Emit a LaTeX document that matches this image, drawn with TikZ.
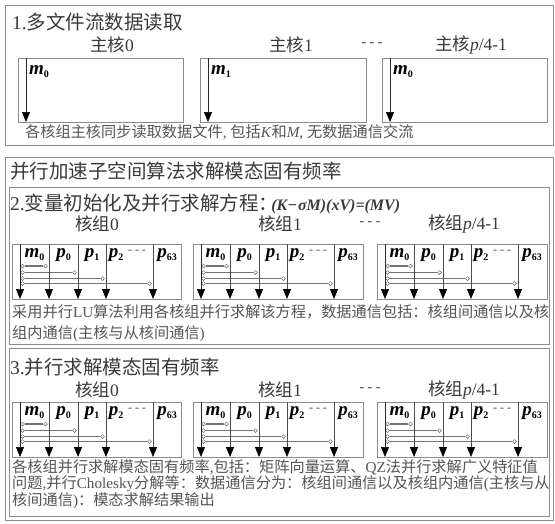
\documentclass[tikz,border=0pt]{standalone}
\usepackage{fontspec}
\setmainfont{Liberation Serif}
\newfontfamily\cjk{Noto Sans CJK SC}
\usetikzlibrary{arrows.meta}
\definecolor{boxc}{HTML}{8C8C8C}
\definecolor{tcol}{HTML}{3A3A3A}
\definecolor{ccol}{HTML}{555555}
\newcommand\zh[1]{{\cjk #1}}
\newcommand\bv[2]{\textbf{\textit{#1}}\raisebox{-3pt}{\fontsize{10}{10}\selectfont\textbf{#2}}}
\newcommand\eqn{{\fontsize{16}{18}\selectfont\textbf{\textit{(K\char"2212\kern1pt σM)(xV)=(MV)}}}}

% core group: #1 x, #2 y, #3 prefix, #4 width
\newcommand\coregrp[4]{%
\begin{scope}[shift={(#1,#2)}]
  \node[cbox, minimum width=#4pt, minimum height=55pt] (#3box) at (0,0) {};
  \foreach \i/\xx in {0/8,1/37,2/66,3/94,4/141} {
    \coordinate (#3t\i) at (\xx,0);
    \coordinate (#3b\i) at (\xx,55);
  }
  \node[circ] (#3s1) at (10.5,22) {};
  \node[circ] (#3s2) at (10.5,28.5) {};
  \node[circ] (#3s3) at (10.5,34.5) {};
  \node[circ] (#3s4) at (10.5,39.5) {};
  \node[circ] (#3e1) at (33.5,22) {};
  \node[circ] (#3e2) at (62.5,28.5) {};
  \node[circ] (#3e3) at (90.5,34.5) {};
  \node[circ] (#3e4) at (137.5,39.5) {};
  \draw[hline] (#3s1) -- (#3e1);
  \draw[hline] (#3s2) -- (#3e2);
  \draw[hline] (#3s3) -- (#3e3);
  \draw[hline] (#3s4) -- (#3e4);
  \draw[mline] (#3t0) -- (#3b0);
  \draw[dline] (#3t1) -- (#3b1);
  \draw[dline] (#3t2) -- (#3b2);
  \draw[dline] (#3t3) -- (#3b3);
  \draw[dline] (#3t4) -- (#3b4);
  \node[vlab] (#3m) at (22.5,11) {\bv{m}{0}};
  \node[vlab] (#3p0) at (51.5,11) {\bv{p}{0}};
  \node[vlab] (#3p1) at (80,11) {\bv{p}{1}};
  \node[vlab] (#3p2) at (104,11) {\bv{p}{2}};
  \node[dlab] (#3d) at (125,8) {- - -};
  \node[vlab] (#3p63) at (155,11) {\bv{p}{63}};
\end{scope}}

% main-core box: #1 x, #2 y, #3 prefix, #4 width, #5 subscript
\newcommand\mainbox[5]{%
\begin{scope}[shift={(#1,#2)}]
  \node[cbox, minimum width=#4pt, minimum height=64pt] (#3box) at (0,0) {};
  \coordinate (#3t) at (8,0);
  \coordinate (#3b) at (8,64);
  \draw[mline] (#3t) -- (#3b);
  \node[vlab, anchor=west] (#3m) at (11,14) {\bv{m}{#5}};
\end{scope}}

\begin{document}
\begin{tikzpicture}[x=1pt,y=-1pt,
  secbox/.style={draw=boxc, line width=1.3pt, inner sep=0, anchor=north west},
  cbox/.style={draw=boxc, line width=1pt, inner sep=0, anchor=north west},
  mline/.style={draw=black!85, line width=0.7pt, -{Triangle[width=8pt,length=10pt,color=black]}},
  dline/.style={draw=black!70, line width=0.8pt, -{Triangle[width=8pt,length=10pt,color=black]}},
  hline/.style={draw=black!55, line width=1.5pt},
  circ/.style={circle, draw=black!60, fill=white, line width=0.5pt, minimum size=3.8pt, inner sep=0},
  ttl/.style={anchor=west, inner sep=0, font=\fontsize{19.5}{22}\selectfont, text=tcol},
  lbl/.style={inner sep=0, font=\fontsize{17.5}{20}\selectfont, text=tcol},
  captxt/.style={anchor=west, inner sep=0, font=\fontsize{15.2}{17}\selectfont, text=ccol},
  vlab/.style={inner sep=0, font=\fontsize{19}{20}\selectfont, text=black},
  dlab/.style={inner sep=0, font=\fontsize{12}{12}\selectfont, text=black!70},
  hdots/.style={inner sep=0, font=\fontsize{14}{16}\selectfont, text=tcol}
]
\fill[white] (0,0) rectangle (555,523);
\useasboundingbox (0,0) rectangle (555,523);

% ---------- section 1 ----------
\node[secbox, minimum width=548pt, minimum height=140pt] (sec1) at (5,5) {};
\node[ttl] (t1) at (12,22) {1.\zh{多文件流数据读取}};
\node[lbl] (l10) at (112,45) {\zh{主核}0};
\node[lbl] (l11) at (291,45) {\zh{主核}1};
\node[hdots] (dd1) at (372,45) {- - -};
\node[lbl] (l1p) at (471,45) {\zh{主核}\textit{p}/4-1};
\mainbox{18}{58}{ma}{165}{0}
\mainbox{200}{58}{mb}{166}{1}
\mainbox{382}{58}{mc}{165}{0}
\node[captxt] (c1) at (25,132) {\zh{各核组主核同步读取数据文件}, \zh{包括}\textit{K}\zh{和}\textit{M}, \zh{无数据通信交流}};

% ---------- section 2 outer ----------
\node[secbox, minimum width=548pt, minimum height=363pt] (sec2) at (5,157) {};
\node[ttl] (t2) at (10,171) {\zh{并行加速子空间算法求解模态固有频率}};

% ---------- box 2 ----------
\node[secbox, minimum width=540pt, minimum height=157pt] (box2) at (9,187) {};
\node[ttl] (t21) at (10,204) {2.\zh{变量初始化及并行求解方程：}\kern-7pt\eqn};
\node[lbl] (l20) at (97,224) {\zh{核组}0};
\node[lbl] (l21) at (280,224) {\zh{核组}1};
\node[hdots] (dd2) at (370,224) {- - -};
\node[lbl] (l2p) at (464,224) {\zh{核组}\textit{p}/4-1};
\coregrp{12}{244}{ga}{169}
\coregrp{193}{244}{gb}{170}
\coregrp{377}{244}{gc}{170}
\node[captxt] (c21) at (12,312) {\zh{采用并行}LU\zh{算法利用各核组并行求解该方程，数据通信包括：核组间通信以及核}};
\node[captxt] (c22) at (12,334) {\zh{组内通信}(\zh{主核与从核间通信})};

% ---------- box 3 ----------
\node[secbox, minimum width=540pt, minimum height=168pt] (box3) at (9,348) {};
\node[ttl] (t31) at (10,367) {3.\zh{并行求解模态固有频率}};
\node[lbl] (l30) at (97,390) {\zh{核组}0};
\node[lbl] (l31) at (280,390) {\zh{核组}1};
\node[hdots] (dd3) at (370,390) {- - -};
\node[lbl] (l3p) at (464,390) {\zh{核组}\textit{p}/4-1};
\coregrp{12}{402}{ha}{169}
\coregrp{193}{402}{hb}{170}
\coregrp{377}{402}{hc}{170}
\node[captxt] (c31) at (12,467) {\zh{各核组并行求解模态固有频率},\zh{包括：矩阵向量运算、}QZ\zh{法并行求解广义特征值}};
\node[captxt] (c32) at (12,484) {\zh{问题},\zh{并行}Cholesky\zh{分解等：数据通信分为：核组间通信以及核组内通信}(\zh{主核与从}};
\node[captxt] (c33) at (12,501) {\zh{核间通信})\zh{：模态求解结果输出}};
\end{tikzpicture}
\end{document}
